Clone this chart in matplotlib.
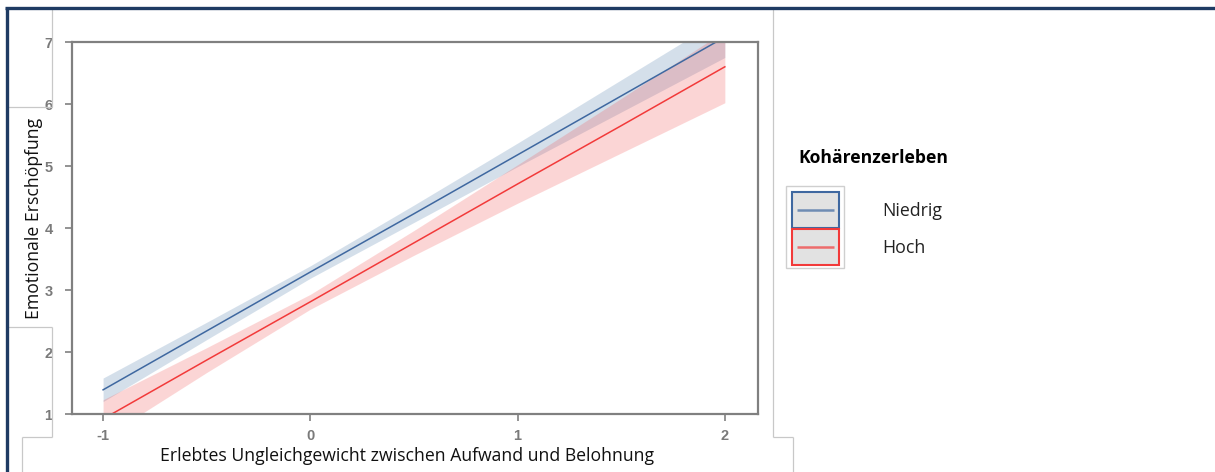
import matplotlib
matplotlib.use("Agg")
import matplotlib.pyplot as plt
from matplotlib.lines import Line2D
from matplotlib.patches import Rectangle

# Predicted values with confidence bands at selected x positions
x_vals = [-1.0, -0.5, 0.0, 0.5, 1.0, 1.5, 2.0]

niedrig_fit = [1.39, 2.34, 3.29, 4.23, 5.18, 6.13, 7.08]
niedrig_lower = [1.20, 2.20, 3.19, 4.09, 4.99, 5.87, 6.75]
niedrig_upper = [1.58, 2.48, 3.39, 4.37, 5.37, 6.39, 7.41]

hoch_fit = [0.92, 1.87, 2.81, 3.76, 4.71, 5.65, 6.60]
hoch_lower = [0.61, 1.67, 2.69, 3.56, 4.40, 5.21, 6.02]
hoch_upper = [1.23, 2.07, 2.93, 3.96, 5.02, 6.09, 7.18]

x_ticks = [-1, 0, 1, 2]
y_ticks = [1, 2, 3, 4, 5, 6, 7]
group_labels = ["Niedrig", "Hoch"]
legend_title = "Kohärenzerleben"
x_label = "Erlebtes Ungleichgewicht zwischen Aufwand und Belohnung"
y_label = "Emotionale Erschöpfung"

W, H = 1215, 472
BLUE_LINE = "#3f68a0"
RED_LINE = "#f23a3a"
BLUE_FILL = "#5783af"
RED_FILL = "#f35b5b"
GRID_GRAY = "#c8c8c8"
TICK_GRAY = "#808080"

fig = plt.figure(figsize=(W / 100, H / 100), dpi=100)
fig.patch.set_facecolor("white")


def fx(px):
    return px / W


def fy(py):
    return 1 - py / H


def seg(x0, y0, x1, y1, color, lw, alpha=1.0):
    fig.add_artist(Line2D([fx(x0), fx(x1)], [fy(y0), fy(y1)],
                          transform=fig.transFigure, color=color, lw=lw,
                          alpha=alpha, solid_capstyle="butt"))


# plot area
ax = fig.add_axes([fx(72), fy(414), fx(758) - fx(72), fy(42) - fy(414)])
ax.fill_between(x_vals, niedrig_lower, niedrig_upper, color=BLUE_FILL,
                alpha=0.25, lw=0)
ax.fill_between(x_vals, hoch_lower, hoch_upper, color=RED_FILL,
                alpha=0.25, lw=0)
ax.plot(x_vals, hoch_fit, color=RED_LINE, lw=1.1)
ax.plot(x_vals, niedrig_fit, color=BLUE_LINE, lw=1.1)

ax.set_xlim(-1.15, 2.16)
ax.set_ylim(1, 7)
ax.set_xticks(x_ticks)
ax.set_yticks(y_ticks)
ax.set_xticklabels([f"{t}" for t in x_ticks])
for s in ax.spines.values():
    s.set_color(TICK_GRAY)
    s.set_linewidth(1.6)
ax.tick_params(axis="both", colors=TICK_GRAY, length=5, width=1.2,
               labelsize=10.5, labelcolor="#7a7a7a")
ax.tick_params(axis="y", pad=9)
ax.tick_params(axis="x", pad=6)
for lab in ax.get_xticklabels() + ax.get_yticklabels():
    lab.set_family("Liberation Sans")
    lab.set_fontweight("bold")

# axis titles
fig.text(fx(407), fy(456), x_label, ha="center", va="center",
         fontsize=12.7, family="Open Sans", color="#111111")
fig.text(fx(34), fy(218), y_label, ha="center", va="center",
         rotation=90, fontsize=12.7, family="Open Sans", color="#111111")

# legend
fig.text(fx(798), fy(158), legend_title, ha="left", va="center",
         fontsize=12.6, fontweight="bold", family="Open Sans", color="black")
fig.add_artist(Rectangle((fx(786), fy(268)), fx(844) - fx(786),
                         fy(186) - fy(268), transform=fig.transFigure,
                         facecolor="white", edgecolor="#cfcfcf", lw=1))
for i, (lab, lc) in enumerate(zip(group_labels, [BLUE_LINE, RED_LINE])):
    top = 192 + i * 37
    fig.add_artist(Rectangle((fx(792), fy(top + 36)), fx(839) - fx(792),
                             fy(top) - fy(top + 36), transform=fig.transFigure,
                             facecolor="#e2e2e2", edgecolor=lc, lw=1.5))
    seg(797, top + 18, 834, top + 18, lc, 1.8, alpha=0.7)
    fig.text(fx(882), fy(top + 19), lab, ha="left", va="center",
             fontsize=12.8, family="Open Sans", color="#222222")

# surrounding frame lines
for (x0, y0, x1, y1) in [(52, 8, 52, 107), (52, 327, 52, 437),
                         (8, 107, 52, 107), (8, 327, 52, 327),
                         (22, 437, 52, 437), (22, 437, 22, 472),
                         (773, 8, 773, 437), (773, 437, 793, 437),
                         (793, 437, 793, 472)]:
    seg(x0, y0, x1, y1, GRID_GRAY, 0.9)
seg(5, 8, W, 8, "#1f3b63", 2.4)
seg(7, 8, 7, H, "#1f3b63", 2.4)

fig.savefig("out.png", dpi=100, facecolor="white")
